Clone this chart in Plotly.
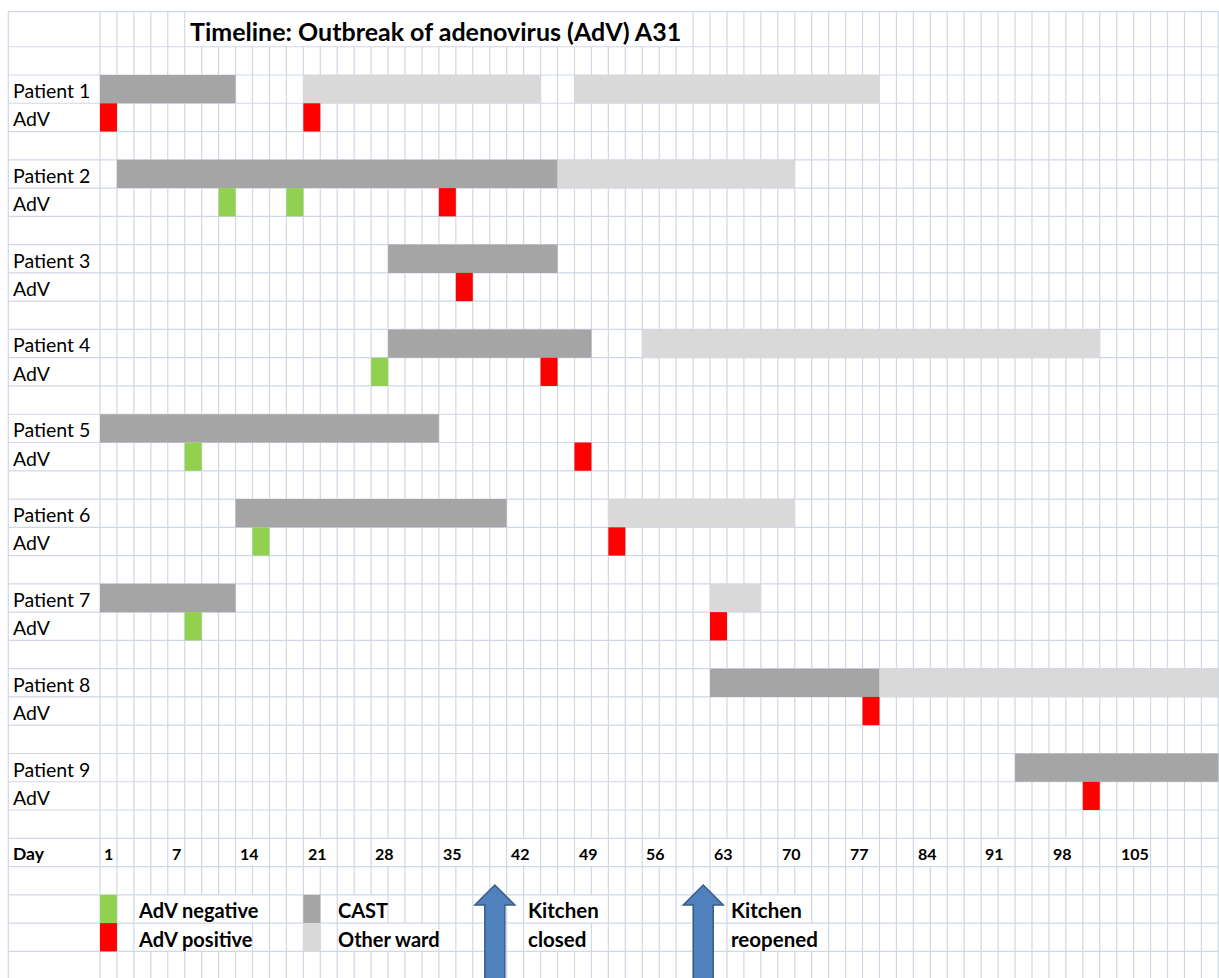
import plotly.graph_objects as go

# ---------------- data ----------------
# Timeline is laid out on spreadsheet grid columns (column 0 = day 1, one column ~ 1.75 days)
patients = ["Patient 1", "Patient 2", "Patient 3", "Patient 4", "Patient 5",
            "Patient 6", "Patient 7", "Patient 8", "Patient 9"]
cast_start = [0, 1, 17, 17, 0, 8, 0, 36, 54]
cast_end = [8, 27, 27, 29, 20, 24, 8, 46, 66]

ward_patient = [1, 1, 2, 4, 6, 7, 8]
ward_start = [12, 28, 27, 32, 30, 36, 46]
ward_end = [26, 46, 41, 59, 41, 39, 66]

neg_patient = [2, 2, 4, 5, 6, 7]
neg_col = [7, 11, 16, 5, 9, 5]

pos_patient = [1, 1, 2, 3, 4, 5, 6, 7, 8, 9]
pos_col = [0, 12, 20, 21, 26, 28, 30, 36, 45, 58]

day_labels = ["1", "7", "14", "21", "28", "35", "42", "49", "56", "63", "70",
              "77", "84", "91", "98", "105"]
day_label_col = [0, 4, 8, 12, 16, 20, 24, 28, 32, 36, 40, 44, 48, 52, 56, 60]

kitchen_text_top = ["Kitchen", "Kitchen"]
kitchen_text_bottom = ["closed", "reopened"]
kitchen_col = [23.3, 35.6]

legend_labels = ["AdV negative", "AdV positive", "CAST", "Other ward"]

# ---------------- styling ----------------
C_CAST = "#A5A5A5"
C_WARD = "#D9D9D9"
C_POS = "#FF0000"
C_NEG = "#92D050"
C_GRID = "#D0D7E5"
C_ARROW = "#4F81BD"
C_ARROW_LINE = "#385D8A"
FONT = "Lato"

# pixel geometry of the sheet grid
COL_W, X0 = 16.945, 100.0
ROW_H, Y0 = 28.27, 46.73
W, H = 1219, 978
x_rng = [(0 - X0) / COL_W, (W - X0) / COL_W]
y_rng = [(H - Y0) / ROW_H, (0 - Y0) / ROW_H]
TITLE_TOP = (11.7 - Y0) / ROW_H
LEFT_EDGE = (8.3 - X0) / COL_W
LABEL_X = (10.6 - X0) / COL_W
N_COLS = 66
N_ROWS = 34
PAD = -2.0 / COL_W  # compensate annotation box padding


def prow(p):
    return 1 + 3 * (p - 1)


fig = go.Figure()


def add_cells(rows, starts, ends, color):
    fig.add_trace(go.Bar(
        orientation="h",
        y=[r + 0.5 for r in rows],
        x=[e - s for s, e in zip(starts, ends)],
        base=starts,
        width=1,
        marker=dict(color=color, line=dict(width=0)),
        hoverinfo="skip", showlegend=False,
    ))


# CAST stays
add_cells([prow(p) for p in range(1, 10)], cast_start, cast_end, C_CAST)
# other ward stays
add_cells([prow(p) for p in ward_patient], ward_start, ward_end, C_WARD)
# AdV tests
add_cells([prow(p) + 1 for p in neg_patient], neg_col, [c + 1 for c in neg_col], C_NEG)
add_cells([prow(p) + 1 for p in pos_patient], pos_col, [c + 1 for c in pos_col], C_POS)
# legend swatches
add_cells([30, 31, 30, 31], [0, 0, 12, 12], [1, 1, 13, 13], [C_NEG, C_POS, C_CAST, C_WARD])

shapes = []
# vertical grid lines
for c in [LEFT_EDGE] + list(range(0, N_COLS + 1)):
    shapes.append(dict(type="line", xref="x", yref="y", x0=c, x1=c, y0=TITLE_TOP, y1=N_ROWS,
                       line=dict(color=C_GRID, width=1.2), layer="below"))

# white cover where overflowing text hides vertical gridlines
covers = [(TITLE_TOP, 0, 5, 35),
          (30, 31, 2, 10), (31, 32, 2, 9), (30, 31, 14, 17), (31, 32, 14, 20),
          (30, 31, 25, 30), (31, 32, 25, 29), (30, 31, 37, 42), (31, 32, 37, 43)]
for lab, c in zip(day_labels, day_label_col):
    if len(lab) >= 2:
        covers.append((28, 29, c, c + 2))
for y0, y1, c0, c1 in covers:
    shapes.append(dict(type="rect", xref="x", yref="y", x0=c0 + 0.06, x1=c1 - 0.06,
                       y0=y0, y1=y1, fillcolor="white", line=dict(width=0), layer="below"))

# horizontal grid lines
for r in [TITLE_TOP] + list(range(0, N_ROWS)):
    shapes.append(dict(type="line", xref="x", yref="y", x0=LEFT_EDGE, x1=N_COLS + 2, y0=r, y1=r,
                       line=dict(color=C_GRID, width=1.2), layer="below"))

# kitchen arrows
tip, base_y, bottom = (885 - Y0) / ROW_H, (905 - Y0) / ROW_H, 34
hw, sw = 20 / COL_W, 10 / COL_W
for xc in kitchen_col:
    path = (f"M {xc},{tip} L {xc + hw},{base_y} L {xc + sw},{base_y} L {xc + sw},{bottom} "
            f"L {xc - sw},{bottom} L {xc - sw},{base_y} L {xc - hw},{base_y} Z")
    shapes.append(dict(type="path", xref="x", yref="y", path=path, fillcolor=C_ARROW,
                       line=dict(color=C_ARROW_LINE, width=1.5), layer="above"))

annotations = []


def txt(x, y, s, size=18, bold=False):
    annotations.append(dict(x=x, y=y, xref="x", yref="y", text=f"<b>{s}</b>" if bold else s,
                            showarrow=False, xanchor="left", yanchor="middle",
                            font=dict(family=FONT, size=size, color="black")))


YOFF = 0.55
txt(5 + 5.3 / COL_W + PAD, TITLE_TOP / 2 + 0.05, "Timeline: Outbreak of adenovirus (AdV) A31", size=25, bold=True)
for i, name in enumerate(patients, start=1):
    txt(LABEL_X, prow(i) + YOFF, name, size=19.5)
    txt(LABEL_X, prow(i) + 1 + YOFF, "AdV", size=19.5)
txt(LABEL_X, 28 + YOFF, "Day", size=17.5, bold=True)
for lab, c in zip(day_labels, day_label_col):
    txt(c + 0.25 + PAD, 28 + YOFF, lab, size=16, bold=True)
txt(2 + 0.22 + PAD, 30 + YOFF, legend_labels[0], size=20, bold=True)
txt(2 + 0.22 + PAD, 31 + YOFF, legend_labels[1], size=20, bold=True)
txt(14 + 0.05 + PAD, 30 + YOFF, legend_labels[2], size=20, bold=True)
txt(14 + 0.05 + PAD, 31 + YOFF, legend_labels[3], size=20, bold=True)
for xc, top_s, bot_s in zip(kitchen_col, kitchen_text_top, kitchen_text_bottom):
    start = int(xc) + 2
    txt(start + 0.25 + PAD, 30 + YOFF, top_s, size=20.5, bold=True)
    txt(start + 0.25 + PAD, 31 + YOFF, bot_s, size=20.5, bold=True)

fig.update_layout(
    width=W, height=H,
    margin=dict(l=0, r=0, t=0, b=0),
    paper_bgcolor="white", plot_bgcolor="white",
    barmode="overlay",
    xaxis=dict(range=x_rng, visible=False, fixedrange=True),
    yaxis=dict(range=y_rng, visible=False, fixedrange=True),
    shapes=shapes, annotations=annotations,
    showlegend=False,
)

fig.write_html("out.html", config={"displayModeBar": False},
               post_script="document.body.style.margin='0px';")
